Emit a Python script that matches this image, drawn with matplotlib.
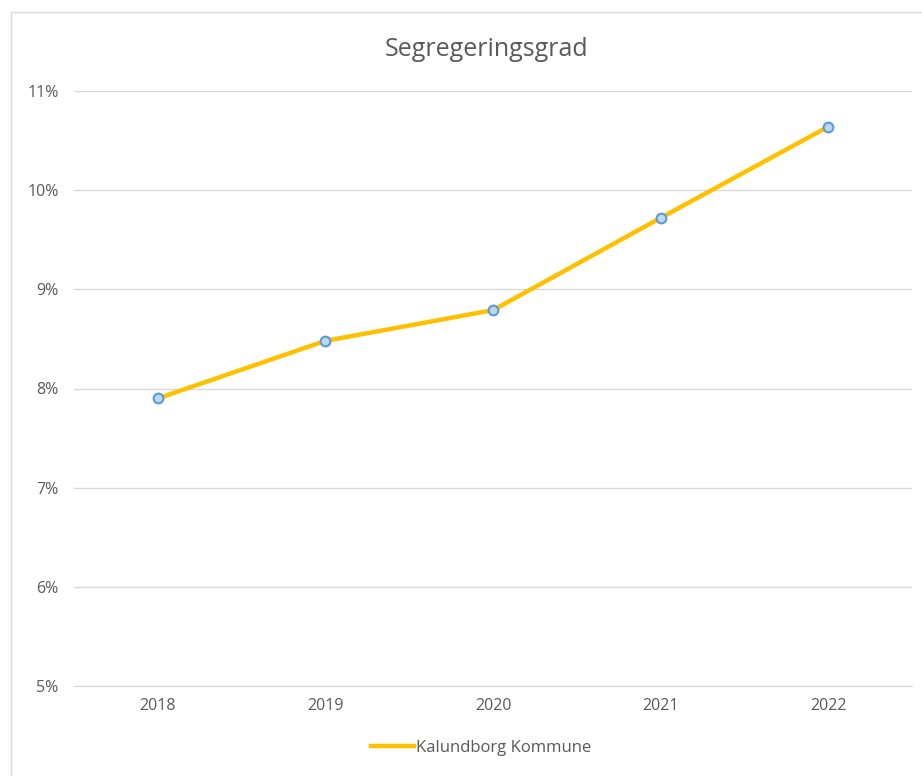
import matplotlib.pyplot as plt
from matplotlib.lines import Line2D
from matplotlib.patches import Rectangle
from matplotlib.ticker import PercentFormatter

years = ['2018', '2019', '2020', '2021', '2022']
values = [7.90, 8.48, 8.79, 9.72, 10.64]
series_name = 'Kalundborg Kommune'

plt.rcParams['font.family'] = ['Open Sans', 'DejaVu Sans']

fig = plt.figure(figsize=(9.22, 7.76), dpi=100)
# chart frame
fig.patches.append(Rectangle((11 / 922, -0.01), 1.0, 1 - 12 / 776 + 0.01,
                             transform=fig.transFigure, fill=False,
                             edgecolor='#d9d9d9', linewidth=1))

ax = fig.add_axes([74 / 922, 1 - 686 / 776, 838 / 922, 595 / 776])
x = range(len(years))
ax.plot(x, values, color='#FFC000', linewidth=3.2, marker='o', markersize=7,
        markerfacecolor='#BDD7EE', markeredgecolor='#5B9BD5',
        markeredgewidth=1.5, solid_capstyle='round')

ax.set_xlim(-0.5, len(years) - 0.5)
ax.set_ylim(5, 11)
ax.set_xticks(list(x))
ax.set_xticklabels(years)
ax.set_yticks(range(5, 12))
ax.yaxis.set_major_formatter(PercentFormatter(decimals=0))
ax.grid(axis='y', color='#d9d9d9', linewidth=1)
ax.set_axisbelow(True)
for s in ['top', 'right', 'left']:
    ax.spines[s].set_visible(False)
ax.spines['bottom'].set_color('#d9d9d9')
ax.tick_params(length=0, colors='#595959', labelsize=11.5)
ax.tick_params(axis='x', pad=9)
ax.tick_params(axis='y', pad=11)

fig.text(487 / 922, 1 - 50 / 776, 'Segregeringsgrad', ha='center', va='center',
         fontsize=18, color='#595959')
handle = Line2D([], [], color='#FFC000', linewidth=3.2)
fig.legend([handle], [series_name], loc='center',
           bbox_to_anchor=(481 / 922, 1 - 748 / 776), frameon=False,
           fontsize=12, labelcolor='#595959', handlelength=2.6, handletextpad=0.1)

fig.savefig('out.png', dpi=100)
